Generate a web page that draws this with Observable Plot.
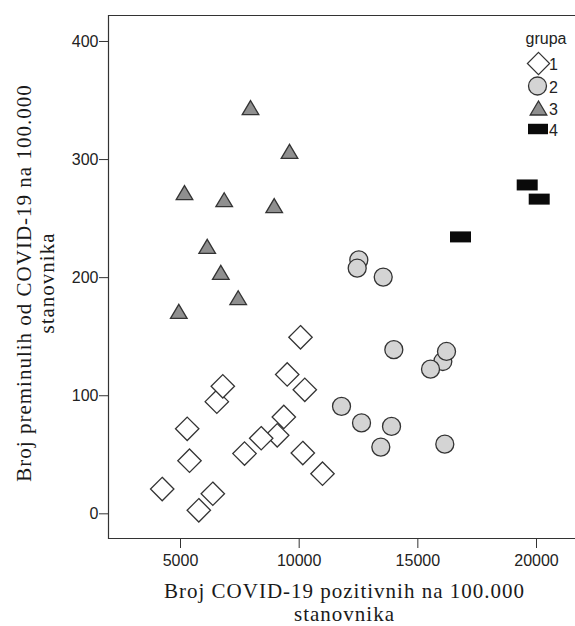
<!DOCTYPE html>
<html><head><meta charset="utf-8">
<script src="https://cdn.jsdelivr.net/npm/d3@7"></script>
<script src="https://cdn.jsdelivr.net/npm/@observablehq/plot@0.6"></script>
<style>html,body{margin:0;padding:0;background:#fff}</style>
</head><body><div id="chart"></div>
<script>
// ---- data ----
const xTicks = [5000, 10000, 15000, 20000];
const yTicks = [0, 100, 200, 300, 400];
const groupNames = ["1", "2", "3", "4"];
const legendTitle = "grupa";
const xTitle = ["Broj COVID-19 pozitivnih na 100.000", "stanovnika"];
const yTitle = ["Broj preminulih od COVID-19 na 100.000", "stanovnika"];

const g1x = [10056, 9496, 10237, 6530, 6782, 5282, 9353, 9075, 8400, 7697, 10153, 5379, 10983, 4229, 6361, 5771];
const g1y = [149.5, 118, 105, 95, 108, 72, 82, 66.5, 64, 51, 51.5, 45, 34, 21, 17, 3];
const g2x = [12513, 12445, 13541, 13988, 16052, 16208, 15534, 11784, 12627, 13891, 13440, 16136];
const g2y = [215, 208, 200.5, 139, 129, 137.5, 122.5, 91, 77, 74, 56.5, 59];
const g3x = [7950, 9593, 5168, 6841, 8948, 6125, 6698, 7431, 4928];
const g3y = [344, 307, 272, 266, 261, 226.5, 204.5, 183, 171.5];
const g4x = [19608, 20114, 16798];
const g4y = [278.5, 266.5, 234.5];

const toRows = (xs, ys) => xs.map((x, i) => ({x, y: ys[i]}));

// ---- symbols ----
const diamond = {draw(c) { const r = 11.7; c.moveTo(0, -r); c.lineTo(r, 0); c.lineTo(0, r); c.lineTo(-r, 0); c.closePath(); }};
const circle = {draw(c) { c.moveTo(9, 0); c.arc(0, 0, 9, 0, 2 * Math.PI); c.closePath(); }};
const triangle = {draw(c) { c.moveTo(0, -7); c.lineTo(8.3, 7); c.lineTo(-8.3, 7); c.closePath(); }};
const rect = {draw(c) { c.rect(-10.5, -5.5, 21, 11); }};

const styles = [
  {symbol: diamond, fill: "white", stroke: "#333", strokeWidth: 1.3},
  {symbol: circle, fill: "#d4d4d4", stroke: "#333", strokeWidth: 1.3},
  {symbol: triangle, fill: "#8f8f8f", stroke: "#333", strokeWidth: 1.3},
  {symbol: rect, fill: "#0a0a0a", stroke: "none"}
];
const series = [toRows(g1x, g1y), toRows(g2x, g2y), toRows(g3x, g3y), toRows(g4x, g4y)];

const plot = Plot.plot({
  width: 575,
  height: 626,
  marginLeft: 108,
  marginRight: 0,
  marginTop: 15,
  marginBottom: 88,
  style: {fontFamily: "'Liberation Sans', Arial, sans-serif", fontSize: "16px", color: "#222", background: "white"},
  x: {domain: [1966, 21643]},
  y: {domain: [-20.9, 422]},
  marks: [
    Plot.axisX({ticks: xTicks, tickFormat: d => String(d), tickSize: 10, tickPadding: 6, fontSize: 16, label: null, stroke: "#333"}),
    Plot.axisY({ticks: yTicks, tickFormat: d => String(d), tickSize: 9, tickPadding: 1, fontSize: 16, label: null, stroke: "#333"}),
    ...series.map((rows, i) => Plot.dot(rows, {x: "x", y: "y", ...styles[i]}))
  ]
});
document.getElementById("chart").appendChild(plot);

const svg = d3.select(plot);
const xs = plot.scale("x"), ys = plot.scale("y");
const [x0, x1] = xs.range;
const [yb, yt] = ys.range;

// frame (left, top, bottom)
svg.append("path")
  .attr("d", `M${x1},${yt + 0.5}H${x0 + 0.5}V${yb + 0.5}H${x1}`)
  .attr("fill", "none").attr("stroke", "#333").attr("stroke-width", 1.2);

// legend
const lg = svg.append("g").attr("font-family", "'Liberation Sans', Arial, sans-serif").attr("font-size", 16).attr("fill", "#222");
lg.append("text").attr("x", 546).attr("y", 43.5).attr("text-anchor", "middle").text(legendTitle);
const legendY = [63.5, 86, 108, 129];
const legendX = [538.5, 537.5, 538.5, 538];
const legendScale = [0.95, 1, 1, 0.95];
groupNames.forEach((name, i) => {
  const s = styles[i];
  lg.append("path")
    .attr("transform", `translate(${legendX[i]},${legendY[i]}) scale(${legendScale[i]})`)
    .attr("d", d3.symbol(s.symbol)())
    .attr("fill", s.fill).attr("stroke", s.stroke).attr("stroke-width", s.strokeWidth || 0);
  lg.append("text").attr("x", 553.5).attr("y", legendY[i] + 6.5).text(name);
});

// axis titles
const tg = svg.append("g").attr("font-family", "'Liberation Serif', 'Times New Roman', serif")
  .attr("font-size", 21).attr("letter-spacing", "1px").attr("fill", "#1a1a1a").attr("text-anchor", "middle");
const xc = (x0 + x1) / 2 + 3;
xTitle.forEach((t, i) => tg.append("text").attr("x", xc).attr("y", 598 + i * 23.3).text(t));
const yc = 283;
yTitle.forEach((t, i) => tg.append("text").attr("transform", `translate(${31 + i * 23.3},${yc}) rotate(-90)`).text(t));
</script>
</body></html>
